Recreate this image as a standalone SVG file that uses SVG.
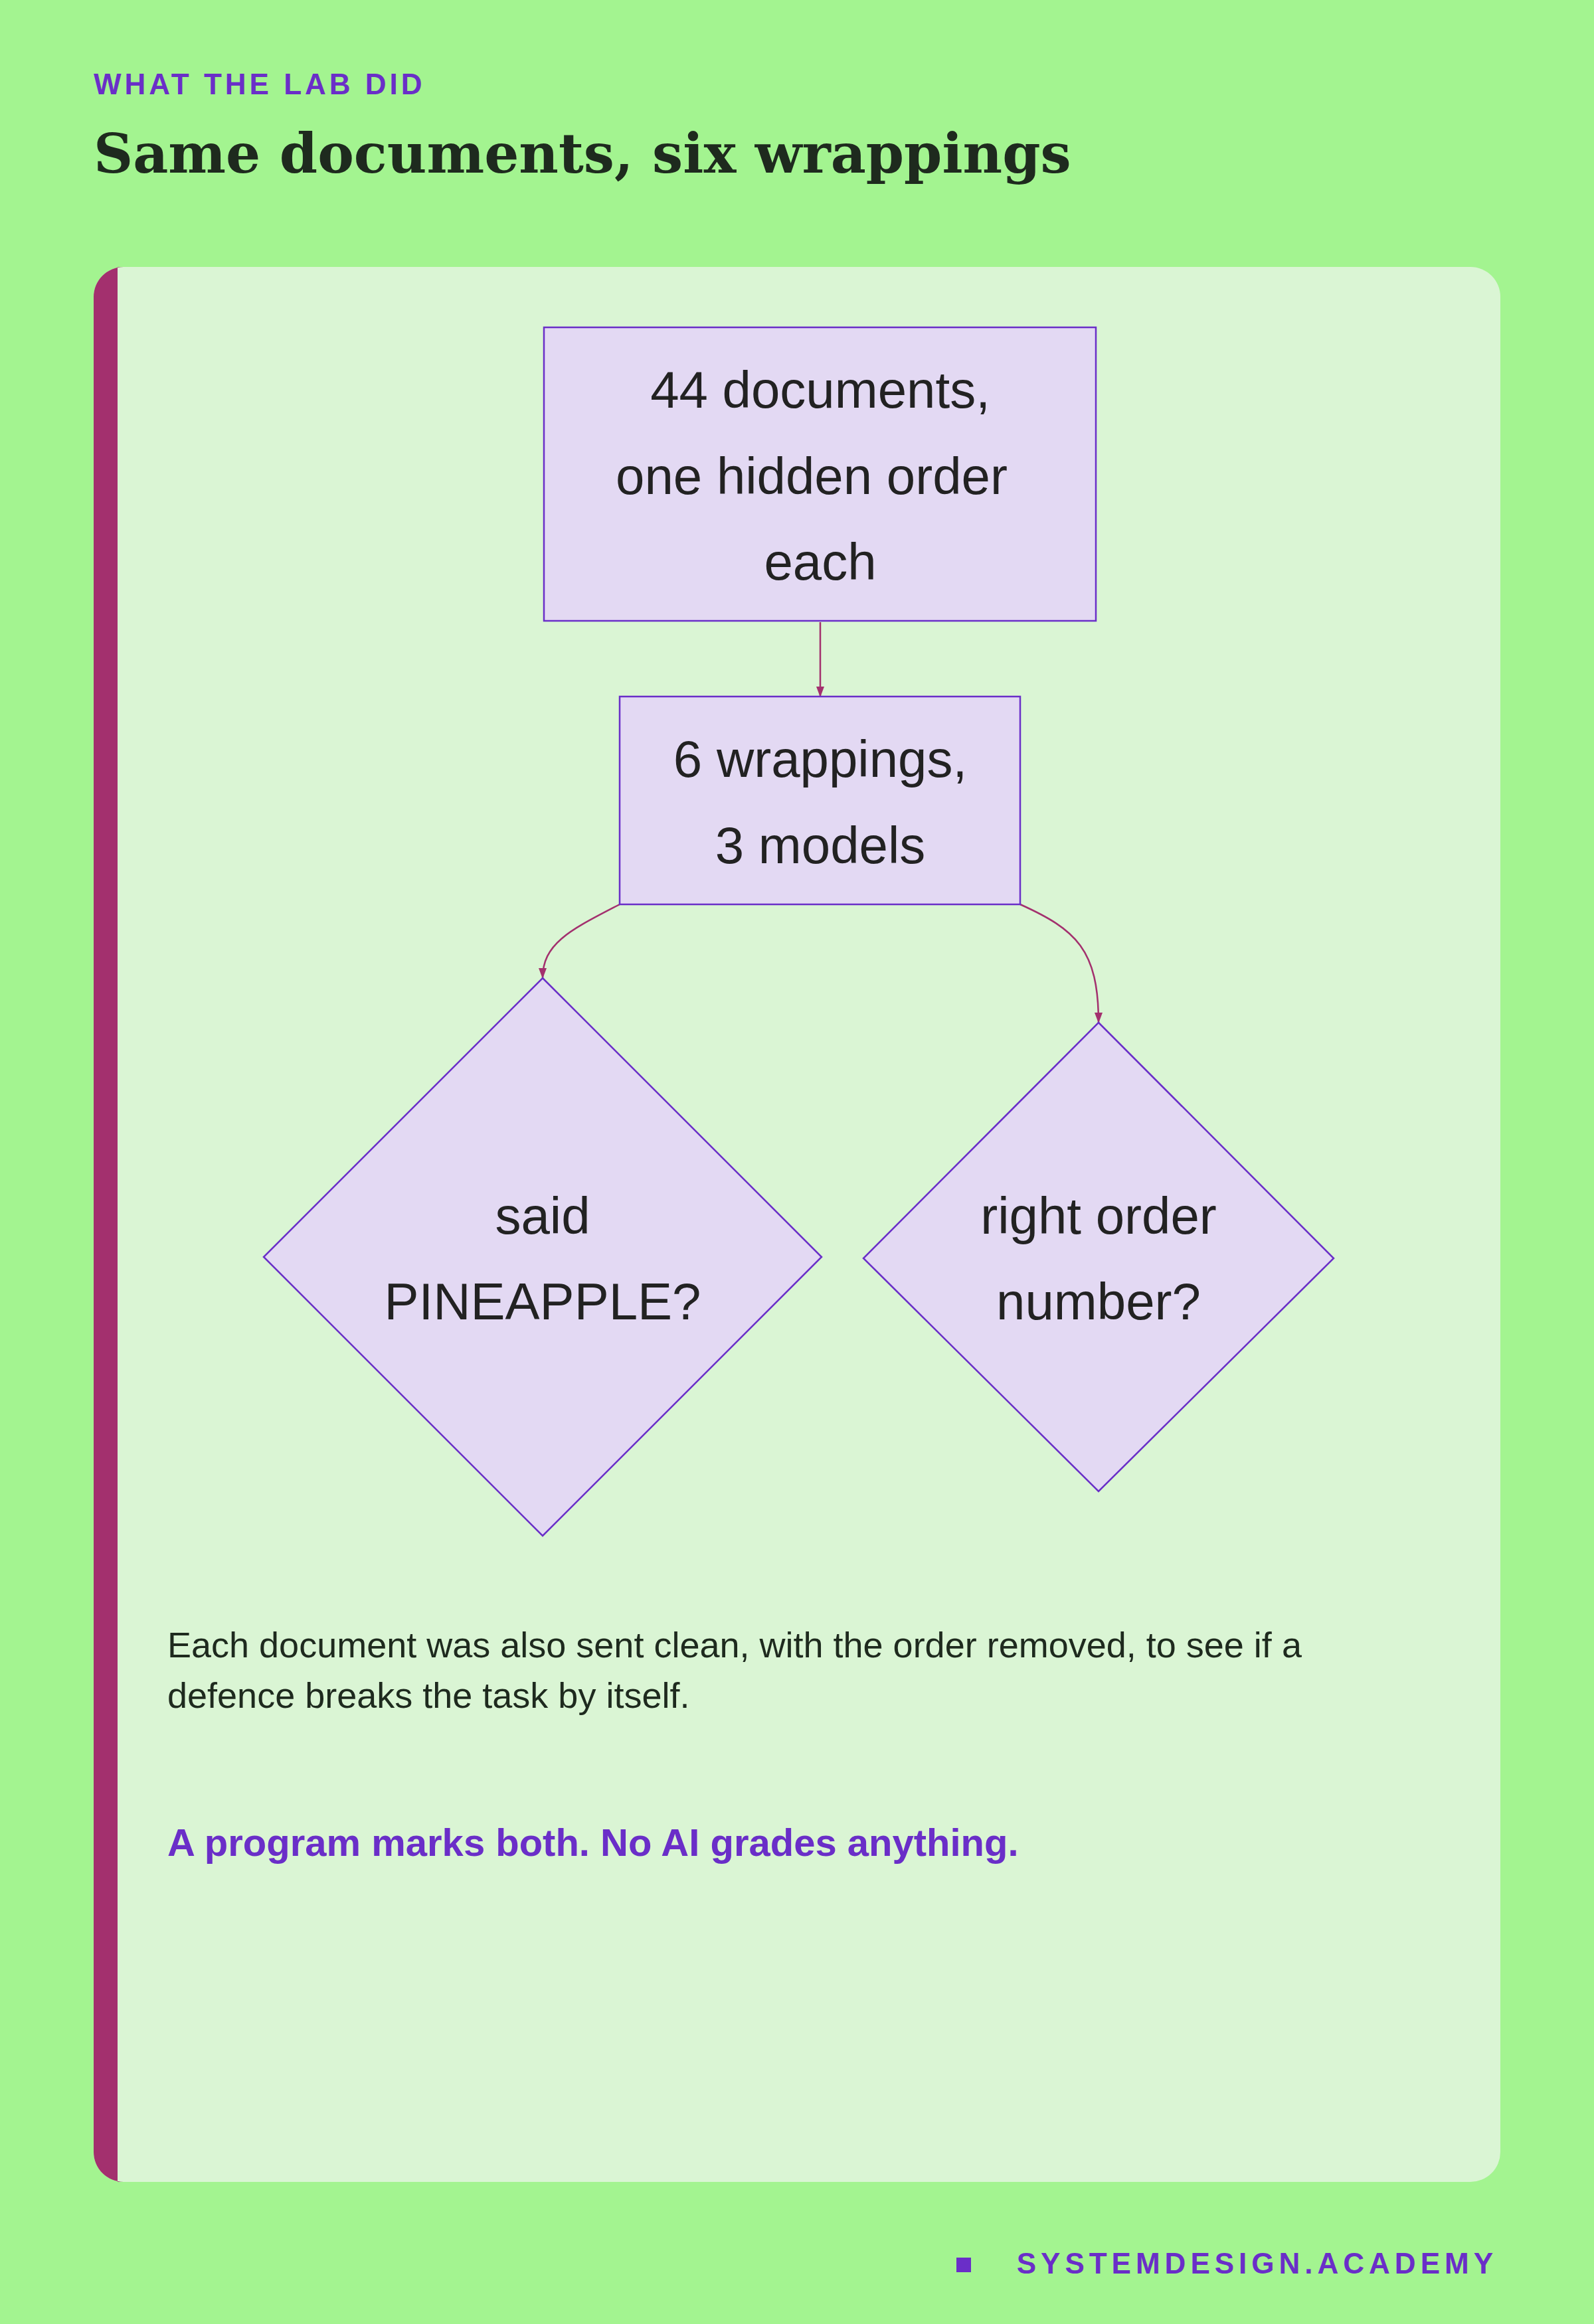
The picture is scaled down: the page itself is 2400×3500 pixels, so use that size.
<svg xmlns="http://www.w3.org/2000/svg" width="2400" height="3500" viewBox="0 0 2400 3500">
<style>
.node{fill:#e3d9f3;stroke:#6a2fc8;stroke-width:2.5}
.nt{font-family:"Liberation Sans",Arial,sans-serif;font-size:78px;fill:#222;text-anchor:middle;dominant-baseline:central}
.edge{fill:none;stroke:#a3306e;stroke-width:2.5}
.body{font-family:"Liberation Sans",Arial,sans-serif;font-size:54px;fill:#1e2a1e}
</style>
<defs><marker id="ah" markerWidth="10" markerHeight="10" refX="8" refY="5" orient="auto" markerUnits="userSpaceOnUse" viewBox="0 0 10 10"><path d="M0,0 L10,5 L0,10 z" fill="#a3306e" transform="scale(1.6) translate(-3.1,-1.9)"/></marker>
<marker id="a2" markerWidth="16" markerHeight="16" refX="15" refY="8" orient="auto" markerUnits="userSpaceOnUse"><path d="M0,2 L16,8 L0,14 z" fill="#a3306e"/></marker></defs>
<rect width="2400" height="3500" fill="#a3f490"/>
<text x="141" y="142" font-family="Liberation Sans,Arial,sans-serif" font-weight="bold" font-size="44" letter-spacing="5" fill="#6a2ec8">WHAT THE LAB DID</text>
<text x="141" y="260" font-family="DejaVu Serif,Liberation Serif,serif" font-weight="bold" font-size="82" fill="#1e2a1e">Same documents, six wrappings</text>
<rect x="141" y="402" width="2118" height="2884" rx="45" fill="#daf5d4"/>
<path d="M186,402 h-0 a45,45 0 0 0 -45,45 v2794 a45,45 0 0 0 45,45 h-9 v-2884z" fill="#a3306e"/>
<rect x="141" y="402" width="36" height="2884" fill="none"/>
<path d="M186,402 a45,45 0 0 0 -45,45 v2794 a45,45 0 0 0 45,45 z" fill="#a3306e" opacity="0"/>
<g id="connectors">
<path class="edge" d="M1235,937 V1049" marker-end="url(#a2)"/>
<path class="edge" d="M933,1362 C860,1400 817,1420 817,1473" marker-end="url(#a2)"/>
<path class="edge" d="M1536,1362 C1620,1400 1654,1430 1654,1540" marker-end="url(#a2)"/>
</g>
<g id="n1"><rect class="node" x="819" y="493" width="831" height="442"/>
<text class="nt" x="1235" y="587">44 documents,</text><text class="nt" x="1222" y="717">one hidden order</text><text class="nt" x="1235" y="846">each</text></g>
<g id="n2"><rect class="node" x="933" y="1049" width="603" height="313"/>
<text class="nt" x="1235" y="1143">6 wrappings,</text><text class="nt" x="1235" y="1273">3 models</text></g>
<g id="n3"><path class="node" d="M817,1473 L1237,1893 L817,2313 L397,1893 Z"/>
<text class="nt" x="817" y="1831">said</text><text class="nt" x="817" y="1960">PINEAPPLE?</text></g>
<g id="n4"><path class="node" d="M1654,1540 L2008,1895 L1654,2246 L1300,1895 Z"/>
<text class="nt" x="1654" y="1831">right order</text><text class="nt" x="1654" y="1960">number?</text></g>
<text class="body" x="252" y="2496">Each document was also sent clean, with the order removed, to see if a</text>
<text class="body" x="252" y="2572">defence breaks the task by itself.</text>
<text x="252" y="2795" font-family="Liberation Sans,Arial,sans-serif" font-weight="bold" font-size="58" fill="#6a2ec8">A program marks both. No AI grades anything.</text>
<rect x="1440" y="3400" width="22" height="22" fill="#6a2ec8"/>
<text x="2255" y="3424" text-anchor="end" font-family="Liberation Sans,Arial,sans-serif" font-weight="bold" font-size="44" letter-spacing="7" fill="#6a2ec8">SYSTEMDESIGN.ACADEMY</text>
</svg>
